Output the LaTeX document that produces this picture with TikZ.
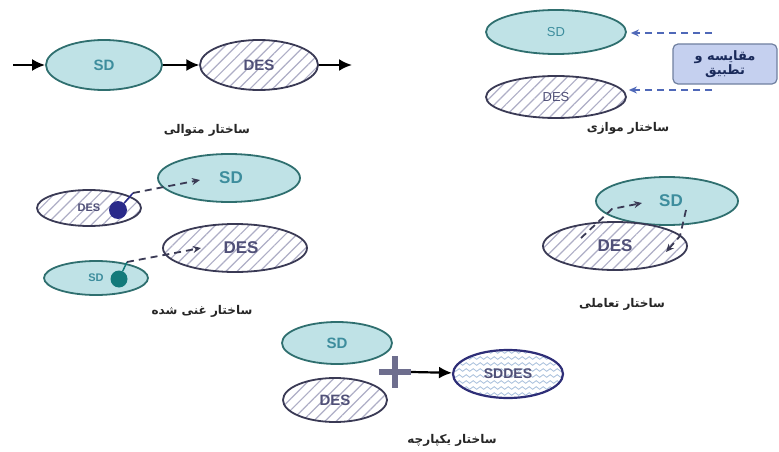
\documentclass[tikz,border=0pt]{standalone}
\usepackage{fontspec}
\setmainfont{Liberation Sans}
\newfontfamily\farsi[Script=Arabic]{DejaVu Sans}
\TeXXeTstate=1
\usetikzlibrary{shapes.geometric,arrows.meta,patterns.meta,decorations.pathmorphing}

\definecolor{sdfill}{HTML}{BFE2E6}
\definecolor{sdline}{HTML}{2F6F6F}
\definecolor{sdtext}{HTML}{3D8D9D}
\definecolor{desline}{HTML}{3A3A55}
\definecolor{deshatch}{HTML}{AEAEC6}
\definecolor{destext}{HTML}{505078}
\definecolor{cmpfill}{HTML}{C5D0EF}
\definecolor{cmpline}{HTML}{7080A0}
\definecolor{cmptext}{HTML}{1A2A5A}
\definecolor{cmparrow}{HTML}{4F68B8}
\definecolor{blobnavy}{HTML}{2A2A8A}
\definecolor{blobteal}{HTML}{137A7A}
\definecolor{plusgray}{HTML}{6E6E8E}
\definecolor{wavecol}{HTML}{A8C0DC}

\tikzset{
  sdnode/.style={ellipse,draw=sdline,line width=1.8pt,fill=sdfill,text=sdtext,
    inner sep=0pt,font=\bfseries\fontsize{15}{17}\selectfont},
  desnode/.style={ellipse,draw=desline,line width=1.8pt,inner sep=0pt,text=destext,
    preaction={fill=white},
    pattern={Lines[angle=45,distance=8pt,line width=1.2pt]},pattern color=deshatch,
    font=\bfseries\fontsize{15}{17}\selectfont},
  small/.style={font=\bfseries\fontsize{11}{13}\selectfont},
  big/.style={font=\bfseries\fontsize{17}{19}\selectfont},
  lbl/.style={font=\farsi\bfseries\fontsize{12}{14}\selectfont,text=black!85},
  bigarrow/.style={line width=2.2pt,-{Latex[length=13pt,width=12pt]}},
  linkarrow/.style={dashed,dash pattern=on 7pt off 5pt,
    -{Stealth[length=8pt,width=7pt]}}
}

\begin{document}
\begin{tikzpicture}[x=1pt,y=-1pt]
  \useasboundingbox (0,0) rectangle (779,452);

  % sequential
  \node[sdnode,minimum width=116pt,minimum height=50pt] (seqsd) at (104,65) {SD};
  \node[desnode,minimum width=118pt,minimum height=50pt] (seqdes) at (259,65) {DES};
  \coordinate (seqin) at (13,65);
  \coordinate (seqout) at (352,65);
  \draw[bigarrow] (seqin) -- (seqsd);
  \draw[bigarrow] (seqsd) -- (seqdes);
  \draw[bigarrow] (seqdes) -- (seqout);
  \node[lbl] (seqlbl) at (207,130) {\beginR ساختار متوالی\endR};

  % parallel
  \node[sdnode,minimum width=140pt,minimum height=44pt,font=\fontsize{13}{15}\selectfont]
    (parsd) at (556,32) {SD};
  \node[desnode,minimum width=140pt,minimum height=42pt,font=\fontsize{13}{15}\selectfont]
    (pardes) at (556,97) {DES};
  \node[draw=cmpline,fill=cmpfill,rounded corners=5pt,line width=1.2pt,
    minimum width=104pt,minimum height=40pt,align=center,text=cmptext,inner sep=1pt,
    font=\farsi\bfseries\fontsize{13}{14}\selectfont] (cmp) at (725,64)
    {\beginR مقایسه و\endR\\\beginR تطبیق\endR};
  \coordinate (cmpa) at (712,33);
  \coordinate (cmpb) at (712,90);
  \draw[linkarrow,cmparrow,line width=2pt] (cmpa) -- ([xshift=4pt]parsd.east |- cmpa);
  \draw[linkarrow,cmparrow,line width=2pt] (cmpb) -- ([xshift=2pt]pardes.east |- cmpb);
  \node[lbl] (parlbl) at (628,128) {\beginR ساختار موازی\endR};

  % enriched
  \node[desnode,small,minimum width=104pt,minimum height=36pt] (endesa) at (89,208)
    {DES\hspace{36pt}};
  \node[sdnode,big,minimum width=142pt,minimum height=48pt] (ensda) at (229,178)
    {\hspace{4pt}SD};
  \node[circle,fill=blobnavy,inner sep=0pt,minimum size=18pt] (bloba) at (118,210) {};
  \coordinate (stema) at (133,193);
  \coordinate (tipa) at (200,180);
  \draw[blobnavy,line width=1.5pt] (bloba) -- (stema);
  \draw[linkarrow,desline,line width=1.8pt] (stema) -- (tipa);

  \node[sdnode,small,minimum width=104pt,minimum height=34pt] (ensdb) at (96,278)
    {SD\hspace{40pt}};
  \node[desnode,big,minimum width=144pt,minimum height=48pt] (endesb) at (235,248)
    {\hspace{12pt}DES};
  \node[circle,fill=blobteal,inner sep=0pt,minimum size=17pt] (blobb) at (119,279) {};
  \coordinate (stemb) at (127,262);
  \coordinate (tipb) at (201,248);
  \draw[blobteal,line width=1.5pt] (blobb) -- (stemb);
  \draw[linkarrow,desline,line width=1.8pt] (stemb) -- (tipb);
  \node[lbl] (enlbl) at (202,311) {\beginR ساختار غنی شده\endR};

  % interactive
  \node[sdnode,big,minimum width=142pt,minimum height=48pt] (insd) at (667,201)
    {\hspace{8pt}SD};
  \node[desnode,big,minimum width=144pt,minimum height=48pt] (indes) at (615,246) {DES};
  \coordinate (ina) at (581,238);
  \coordinate (inb) at (642,203);
  \coordinate (inc) at (686,210);
  \coordinate (ind) at (666,252);
  \draw[linkarrow,desline,line width=1.8pt] (ina) -- (612,209) -- (inb);
  \draw[linkarrow,desline,line width=1.8pt] (inc) -- (680,236) -- (ind);
  \node[lbl] (inlbl) at (622,304) {\beginR ساختار تعاملی\endR};

  % integrated
  \node[sdnode,minimum width=110pt,minimum height=42pt] (itsd) at (337,343) {SD};
  \node[desnode,minimum width=104pt,minimum height=44pt] (itdes) at (335,400) {DES};
  \node[inner sep=0pt,minimum size=32pt] (plus) at (395,372) {};
  \draw[plusgray,line width=6pt] (plus.north) -- (plus.south) (plus.west) -- (plus.east);
  \fill[white] (508,374) ellipse [x radius=55, y radius=24];
  \begin{scope}
    \clip (508,374) ellipse [x radius=55, y radius=24];
    \foreach \yy in {352,358,...,398}
      \draw[wavecol,line width=0.8pt,decorate,
        decoration={snake,amplitude=1.3pt,segment length=7pt}] (450,\yy) -- (568,\yy);
  \end{scope}
  \node[ellipse,draw=desline!80!blue,line width=2.2pt,inner sep=0pt,text=destext,
    minimum width=110pt,minimum height=48pt,font=\bfseries\fontsize{14}{16}\selectfont]
    (sddes) at (508,374) {SDDES};
  \draw[bigarrow] (plus.east) -- (sddes);
  \node[lbl] (itlbl) at (452,440) {\beginR ساختار یکپارچه\endR};
\end{tikzpicture}
\end{document}
